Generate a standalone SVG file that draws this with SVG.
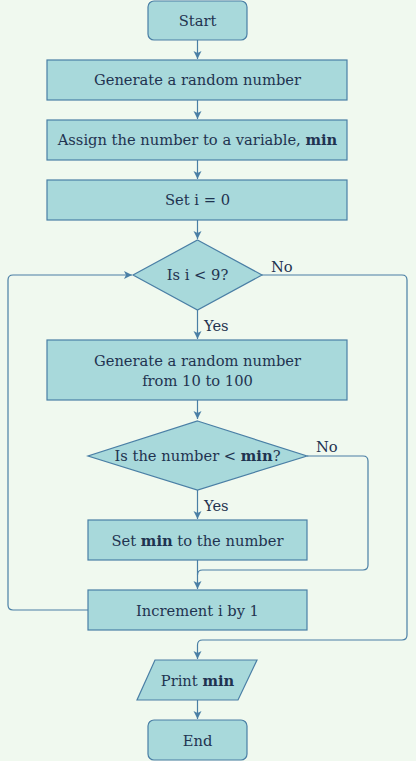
<svg xmlns="http://www.w3.org/2000/svg" width="416" height="761" viewBox="0 0 416 761">
<style>
.n{fill:#a8d9db;stroke:#4a7fa5;stroke-width:1.2}
.t{font-family:"DejaVu Serif","Liberation Serif",serif;font-size:14.7px;fill:#1f3350;text-anchor:middle}
.l{font-family:"DejaVu Serif","Liberation Serif",serif;font-size:14.7px;fill:#1f3350}
.c{fill:none;stroke:#4a7fa5;stroke-width:1.2}
.b{font-weight:bold}
</style>
<defs>
<marker id="a" markerWidth="10" markerHeight="10" refX="8" refY="4" orient="auto" markerUnits="userSpaceOnUse">
<path d="M0,0 L8,4 L0,8 L2,4 Z" fill="#4a7fa5"/>
</marker>
</defs>
<rect width="416" height="761" fill="#f0f9ef"/>
<g id="connectors">
<path class="c" d="M197.5,40 V59" marker-end="url(#a)"/>
<path class="c" d="M197.5,100 V119" marker-end="url(#a)"/>
<path class="c" d="M197.5,160 V179" marker-end="url(#a)"/>
<path class="c" d="M197.5,220 V239" marker-end="url(#a)"/>
<path class="c" d="M197.5,310 V339" marker-end="url(#a)"/>
<path class="c" d="M197.5,400 V419" marker-end="url(#a)"/>
<path class="c" d="M197.5,490 V519" marker-end="url(#a)"/>
<path class="c" d="M197.5,560 V589" marker-end="url(#a)"/>
<path class="c" d="M307,456 H363 Q368,456 368,461 V565 Q368,570 363,570 H202.5 Q197.5,570 197.5,575"/>
<path class="c" d="M88,610 H13 Q8,610 8,605 V280 Q8,275 13,275 H132" marker-end="url(#a)"/>
<path class="c" d="M262,275 H402 Q407,275 407,280 V635 Q407,640 402,640 H202.5 Q197.5,640 197.5,645 V659" marker-end="url(#a)"/>
<path class="c" d="M197.5,700 V719" marker-end="url(#a)"/>
<text class="l" x="271" y="272">No</text>
<text class="l" x="204" y="331">Yes</text>
<text class="l" x="316" y="452">No</text>
<text class="l" x="204" y="511">Yes</text>
</g>
<g id="start"><rect class="n" x="148" y="1" width="99" height="39" rx="6"/><text class="t" x="197.5" y="26">Start</text></g>
<g id="gen1"><rect class="n" x="47" y="60" width="300" height="40"/><text class="t" x="197.5" y="85">Generate a random number</text></g>
<g id="assign"><rect class="n" x="47" y="120" width="300" height="40"/><text class="t" x="197.5" y="145">Assign the number to a variable, <tspan class="b">min</tspan></text></g>
<g id="seti"><rect class="n" x="47" y="180" width="300" height="40"/><text class="t" x="197.5" y="205">Set i = 0</text></g>
<g id="cond1"><polygon class="n" points="197.5,240 262,275 197.5,310 133,275"/><text class="t" x="197.5" y="280">Is i &lt; 9?</text></g>
<g id="gen2"><rect class="n" x="47" y="340" width="300" height="60"/><text class="t" x="197.5" y="366">Generate a random number</text><text class="t" x="197.5" y="386">from 10 to 100</text></g>
<g id="cond2"><polygon class="n" points="197.5,421 307,456 197.5,490 88,456"/><text class="t" x="197.5" y="461">Is the number &lt; <tspan class="b">min</tspan>?</text></g>
<g id="setmin"><rect class="n" x="88" y="520" width="219" height="40"/><text class="t" x="197.5" y="546">Set <tspan class="b">min</tspan> to the number</text></g>
<g id="inc"><rect class="n" x="88" y="590" width="219" height="40"/><text class="t" x="197.5" y="616">Increment i by 1</text></g>
<g id="print"><polygon class="n" points="155,660 257,660 238,700 137,700"/><text class="t" x="197.5" y="686">Print <tspan class="b">min</tspan></text></g>
<g id="end"><rect class="n" x="148" y="720" width="99" height="40" rx="6"/><text class="t" x="197.5" y="746">End</text></g>
</svg>
